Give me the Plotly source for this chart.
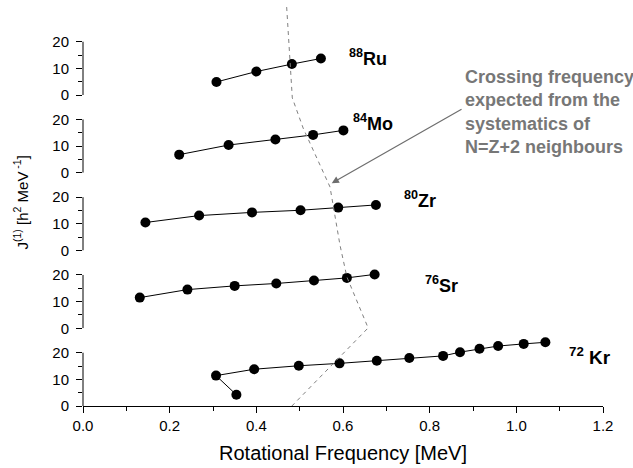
import plotly.graph_objects as go

# ---------------- data ----------------
nuclei = ["72Kr", "76Sr", "80Zr", "84Mo", "88Ru"]
mass_numbers = ["72", "76", "80", "84", "88"]
elements = ["Kr", "Sr", "Zr", "Mo", "Ru"]

kr_x = [0.354, 0.307, 0.395, 0.498, 0.592, 0.678, 0.753, 0.831, 0.870, 0.915, 0.958, 1.017, 1.067]
kr_y = [4.2, 11.4, 13.8, 15.1, 16.0, 17.0, 18.0, 18.8, 20.2, 21.5, 22.5, 23.3, 23.9]

sr_x = [0.131, 0.241, 0.350, 0.446, 0.533, 0.609, 0.673]
sr_y = [11.5, 14.5, 15.9, 16.8, 17.9, 18.9, 20.2]

zr_x = [0.144, 0.268, 0.390, 0.502, 0.589, 0.676]
zr_y = [10.5, 13.1, 14.3, 15.1, 16.1, 17.1]

mo_x = [0.222, 0.336, 0.444, 0.531, 0.601]
mo_y = [6.8, 10.4, 12.5, 14.2, 15.9]

ru_x = [0.308, 0.400, 0.482, 0.549]
ru_y = [4.9, 8.8, 11.6, 13.7]

# expected crossing frequency curve (x in MeV, y in J units above the 72Kr baseline)
cross_x = [0.470, 0.483, 0.508, 0.570, 0.593, 0.609, 0.658, 0.482]
cross_y = [149.7, 115.6, 104.3, 82.2, 60.4, 48.4, 29.3, 0.0]

# label positions (x in MeV, y in panel units)
label_x = [1.117, 0.785, 0.737, 0.619, 0.610]
label_y = [18.6, 16.6, 19.0, 19.0, 14.1]

x_ticks = [0.0, 0.2, 0.4, 0.6, 0.8, 1.0, 1.2]
x_ticktext = ["0.0", "0.2", "0.4", "0.6", "0.8", "1.0", "1.2"]
y_ticks = [0, 10, 20]
y_minor = [5, 15]

annot_text = "Crossing frequency<br>expected from the<br>systematics of<br>N=Z+2 neighbours"
arrow_head = (0.574, 83.6)
arrow_tail = (0.877, 111.7)
annot_pos = (0.878, 110.5)

# ---------------- layout geometry ----------------
W, H = 633, 468
ML, MR, MT, MB = 83, 30, 5, 62
plot_h = H - MT - MB
px_per_unit = 2.665
panel_step = 77.75
panel_range = 25

FONT = "Liberation Sans, Arial, Helvetica, sans-serif"

series = [(kr_x, kr_y), (sr_x, sr_y), (zr_x, zr_y), (mo_x, mo_y), (ru_x, ru_y)]
axis_ids = ["y", "y2", "y3", "y4", "y5"]

fig = go.Figure()

for (xs, ys), yid in zip(series, axis_ids):
    fig.add_trace(go.Scatter(
        x=xs, y=ys, xaxis="x", yaxis=yid, mode="lines+markers",
        line=dict(color="black", width=1),
        marker=dict(color="black", size=10),
        cliponaxis=False, showlegend=False, hoverinfo="skip",
    ))

fig.add_trace(go.Scatter(
    x=cross_x, y=cross_y, xaxis="x", yaxis="y6", mode="lines",
    line=dict(color="#808080", width=1, dash="4px,4px"),
    showlegend=False, hoverinfo="skip",
))

layout = dict(
    width=W, height=H,
    margin=dict(l=ML, r=MR, t=MT, b=MB),
    paper_bgcolor="white", plot_bgcolor="rgba(0,0,0,0)",
    font=dict(family=FONT, size=15, color="black"),
    showlegend=False,
    xaxis=dict(
        domain=[0, 1], range=[0, 1.2], anchor="y",
        tickvals=x_ticks, ticktext=x_ticktext,
        ticks="outside", ticklen=6, tickwidth=1, tickcolor="black",
        minor=dict(dtick=0.1, tick0=0, ticks="outside", ticklen=4, tickwidth=1, tickcolor="black"),
        showline=True, linecolor="black", linewidth=1,
        showgrid=False, zeroline=False,
        tickfont=dict(size=15),
        title=dict(text="Rotational Frequency [MeV]", font=dict(size=20), standoff=12),
    ),
)

shapes = []
for i, yid in enumerate(axis_ids):
    base = i * panel_step / plot_h
    top = (i * panel_step + panel_range * px_per_unit) / plot_h
    key = "yaxis" if i == 0 else "yaxis%d" % (i + 1)
    layout[key] = dict(
        domain=[base, min(top, 1)], range=[0, panel_range], anchor="x",
        tickvals=y_ticks, ticks="outside", ticklen=6, tickwidth=1, tickcolor="black",
        minor=dict(tickvals=y_minor, ticks="outside", ticklen=4, tickwidth=1, tickcolor="black"),
        showline=False, showgrid=False, zeroline=False,
        tickfont=dict(size=15), ticklabelstandoff=4,
    )
    shapes.append(dict(
        type="line", xref="x domain", yref=yid, x0=0, x1=0, y0=0, y1=20,
        line=dict(color="black", width=1),
    ))

layout["yaxis6"] = dict(
    domain=[0, 1], range=[0, plot_h / px_per_unit], anchor="x",
    visible=False, showgrid=False, zeroline=False,
)
layout["shapes"] = shapes

annotations = []
for i, yid in enumerate(axis_ids):
    size = 19 if elements[i] == "Kr" else 18
    sep = " " if elements[i] == "Kr" else ""
    annotations.append(dict(
        x=label_x[i], y=label_y[i], xref="x", yref=yid,
        text="<b><sup>%s</sup>%s%s</b>" % (mass_numbers[i], sep, elements[i]),
        showarrow=False, xanchor="left", yanchor="middle",
        font=dict(size=size, color="black"),
    ))

annotations.append(dict(
    x=arrow_head[0], y=arrow_head[1], xref="x", yref="y6",
    ax=arrow_tail[0], ay=arrow_tail[1], axref="x", ayref="y6",
    text="", showarrow=True, arrowhead=2, arrowsize=1.2, arrowwidth=1.2,
    arrowcolor="#6e6e6e",
))
annotations.append(dict(
    x=annot_pos[0], y=annot_pos[1], xref="x", yref="y6",
    text="<b>" + annot_text + "</b>", showarrow=False,
    xanchor="left", yanchor="middle", align="left",
    font=dict(size=18, color="#777777"),
))
annotations.append(dict(
    x=(21 - ML) / (W - ML - MR), y=(H - MB - 202.5) / plot_h,
    xref="paper", yref="paper", textangle=-90,
    text="J<sup>(1)</sup> [h<sup>2</sup> MeV<sup> -1</sup>]",
    showarrow=False, xanchor="center", yanchor="middle",
    font=dict(size=15, color="black"),
))
layout["annotations"] = annotations

fig.update_layout(**layout)
fig.write_html(
    "out.html",
    config={"displayModeBar": False, "staticPlot": True},
    post_script="document.body.style.margin='0';document.body.style.padding='0';",
)
